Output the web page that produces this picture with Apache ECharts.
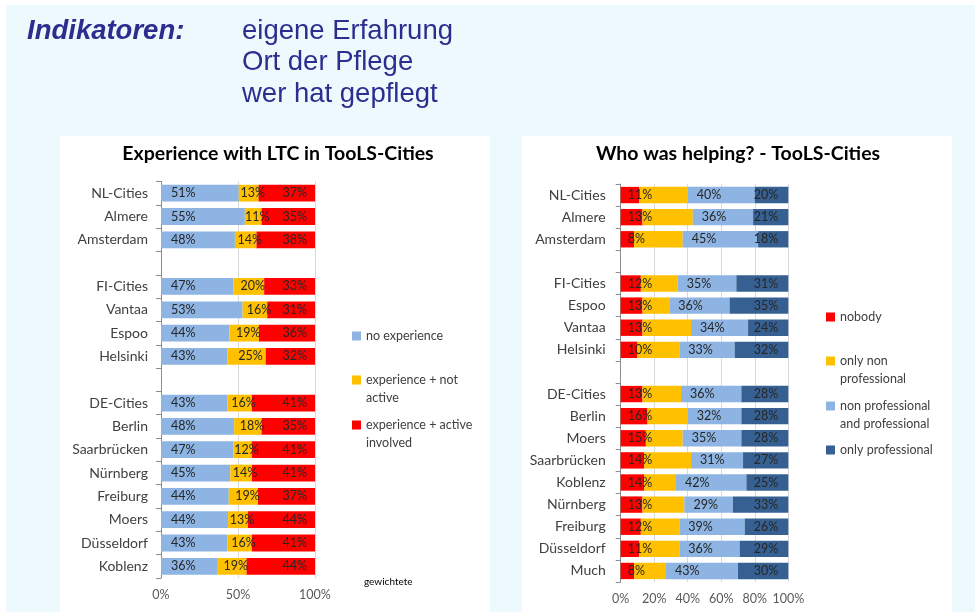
<!DOCTYPE html>
<html><head><meta charset="utf-8">
<script src="https://cdn.jsdelivr.net/npm/echarts@6/dist/echarts.min.js"></script>
<style>html,body{margin:0;padding:0;background:#ffffff}#c{width:975px;height:612px}</style>
</head><body><div id="c"></div>
<script>
// ---- Left chart: Experience with LTC ----
const leftCategories = ['NL-Cities','Almere','Amsterdam',' ','FI-Cities','Vantaa','Espoo','Helsinki','  ','DE-Cities','Berlin','Saarbrücken','Nürnberg','Freiburg','Moers','Düsseldorf','Koblenz'];
const leftNoExperience = [51,55,48,null,47,53,44,43,null,43,48,47,45,44,44,43,36];
const leftNotActive    = [13,11,14,null,20,16,19,25,null,16,18,12,14,19,13,16,19];
const leftActive       = [37,35,38,null,33,31,36,32,null,41,35,41,41,37,44,41,44];
const leftSeriesNames  = ['no experience','experience + not active','experience + active involved'];
const leftLegendText   = ['no experience','\nexperience + not\nactive','\nexperience + active\ninvolved'];

// ---- Right chart: Who was helping ----
const rightCategories = ['NL-Cities','Almere','Amsterdam',' ','FI-Cities','Espoo','Vantaa','Helsinki','  ','DE-Cities','Berlin','Moers','Saarbrücken','Koblenz','Nürnberg','Freiburg','Düsseldorf','Much'];
const rightNobody        = [11,13,8,null,12,13,13,10,null,13,16,15,14,14,13,12,11,8];
const rightOnlyNonProf   = [29,30,29,null,22,16,29,25,null,23,24,22,28,19,25,23,24,19];
const rightNonProfAndProf= [40,36,45,null,35,36,34,33,null,36,32,35,31,42,29,39,36,43];
const rightOnlyProf      = [20,21,18,null,31,35,24,32,null,28,28,28,27,25,33,26,29,30];
const rightSeriesNames = ['nobody','only non professional','non professional and professional','only professional'];
const rightLegendText  = ['nobody','\nonly non\nprofessional','\nnon professional\nand professional','only professional'];

// ---- Header texts ----
const headerLabel = 'Indikatoren:';
const headerLines = ['eigene Erfahrung','Ort der Pflege','wer hat gepflegt'];
const chartTitles = ['Experience with LTC in TooLS-Cities','Who was helping? - TooLS-Cities'];
const footNote = 'gewichtete';

const FONT = 'Lato';
const LBL = '#262626';

function shares(arrays){
  // 100% stacked (as in the original): each row scaled to its total
  return arrays.map(arr => arr.map((v,i) => {
    if (v == null) return null;
    const tot = arrays.reduce((s,a)=>s+(a[i]||0),0);
    return v / tot * 100;
  }));
}

function makeSeries(names, arrays, colors, labels, xi, gap){
  const sh = shares(arrays);
  return names.map((n,k)=>({
    name:n, type:'bar', stack:'s'+xi, xAxisIndex:xi, yAxisIndex:xi,
    barCategoryGap:gap, data: sh[k],
    itemStyle:{color:colors[k]},
    label: Object.assign({show:true, color:LBL, fontFamily:FONT, fontSize:12.5,
      formatter: p => arrays[k][p.dataIndex] + '%'}, labels[k])
  }));
}

const leftColors = ['#8DB4E2','#FFC000','#FF0000'];
const rightColors = ['#FF0000','#FFC000','#8DB4E2','#376092'];

const series = [].concat(
  makeSeries(leftSeriesNames, [leftNoExperience,leftNotActive,leftActive], leftColors,
    [{position:'insideLeft', distance:10},{position:'inside', offset:[4,0]},{position:'insideRight', distance:8}], 0, '28%'),
  makeSeries(rightSeriesNames, [rightNobody,rightOnlyNonProf,rightNonProfAndProf,rightOnlyProf], rightColors,
    [{position:'insideLeft', distance:7},{show:false},{position:'insideLeft', distance:9},{position:'insideRight', distance:10}], 1, '26%')
);

function catAxis(idx, data, margin){
  return {type:'category', gridIndex:idx, data:data, inverse:true,
    axisLine:{show:true, lineStyle:{color:'#8c8c8c', width:1}},
    axisTick:{show:true, length:5, lineStyle:{color:'#8c8c8c'}},
    axisLabel:{color:'#404040', fontFamily:FONT, fontSize:14, margin:margin},
    splitLine:{show:false}};
}
function valAxis(idx, interval){
  return {type:'value', gridIndex:idx, min:0, max:100, interval:interval,
    axisLine:{show:false}, axisTick:{show:false},
    axisLabel:{color:'#595959', fontFamily:FONT, fontSize:12.5, margin:10, formatter:'{value}%'},
    splitLine:{show:true, lineStyle:{color:'#d9d9d9', width:1}}};
}

function legendItem(name, text, x, cy, lines){
  const lh = 18;
  return {data:[name], left:x, top: cy - (lines*lh)/2, orient:'vertical', padding:0,
    icon:'rect', itemWidth:9, itemHeight:9,
    formatter: () => text,
    selectedMode:false,
    textStyle:{fontFamily:FONT, fontSize:12.5, color:'#404040', lineHeight:lh}};
}

const legends = [
  legendItem(leftSeriesNames[0], leftLegendText[0], 352, 336, 1),
  legendItem(leftSeriesNames[1], leftLegendText[1], 352, 380, 3),
  legendItem(leftSeriesNames[2], leftLegendText[2], 352, 425, 3),
  legendItem(rightSeriesNames[0], rightLegendText[0], 826, 317, 1),
  legendItem(rightSeriesNames[1], rightLegendText[1], 826, 361, 3),
  legendItem(rightSeriesNames[2], rightLegendText[2], 826, 406, 3),
  legendItem(rightSeriesNames[3], rightLegendText[3], 826, 450, 1)
];

const headerColor = '#2b2e8f';
const hFont = '27.5px "Liberation Sans", Arial, sans-serif';
const option = {
  animation:false,
  backgroundColor:'#ffffff',
  title:[
    {text:chartTitles[0], left:278, top:143.5, textAlign:'center', padding:0,
     textStyle:{fontFamily:FONT, fontWeight:'bold', fontSize:19.5, color:'#000000'}},
    {text:chartTitles[1], left:738, top:143.5, textAlign:'center', padding:0,
     textStyle:{fontFamily:FONT, fontWeight:'bold', fontSize:19.5, color:'#000000'}}
  ],
  legend: legends,
  graphic:[
    {type:'rect', z:-10, shape:{x:6, y:5, width:975, height:612}, style:{fill:'#eef9fe'}},
    {type:'rect', z:-9, shape:{x:60, y:136, width:430, height:480}, style:{fill:'#ffffff'}},
    {type:'rect', z:-9, shape:{x:522, y:136, width:430, height:480}, style:{fill:'#ffffff'}},
    {type:'text', left:27, top:17.5, style:{text:headerLabel, fill:headerColor, font:'italic bold 27.5px "Liberation Sans", Arial, sans-serif'}},
    {type:'text', left:242, top:17.3, style:{text:headerLines[0], fill:headerColor, font:hFont}},
    {type:'text', left:242, top:48.8, style:{text:headerLines[1], fill:headerColor, font:hFont}},
    {type:'text', left:242, top:80.3, style:{text:headerLines[2], fill:headerColor, font:hFont}},
    {type:'text', left:364, top:577, style:{text:footNote, fill:'#000000', font:'10px Lato, sans-serif'}}
  ],
  grid:[
    {left:161, width:154, top:181.5, height:396.5, containLabel:false},
    {left:620.7, width:167.6, top:184, height:398, containLabel:false}
  ],
  xAxis:[valAxis(0,50), valAxis(1,20)],
  yAxis:[catAxis(0,leftCategories,13), catAxis(1,rightCategories,15)],
  series: series
};
const chart = echarts.init(document.getElementById('c'), null, {renderer:'canvas'});
chart.setOption(option);
</script></body></html>
